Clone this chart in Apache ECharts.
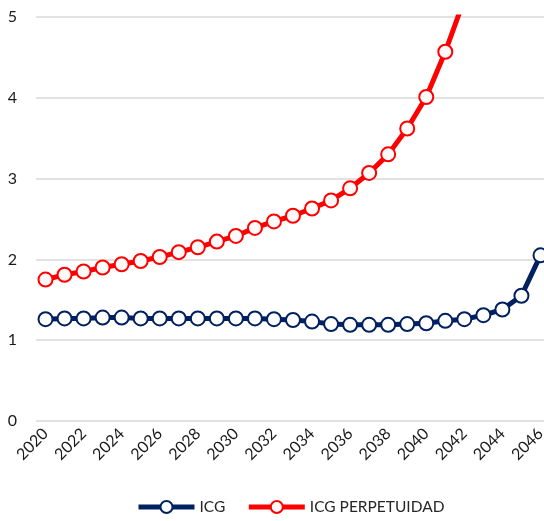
<!DOCTYPE html>
<html>
<head>
<meta charset="utf-8">
<script src="https://cdn.jsdelivr.net/npm/echarts@6/dist/echarts.min.js"></script>
<style>html,body{margin:0;padding:0;background:#fff;}#c{width:544px;height:521px;}</style>
</head>
<body>
<div id="c"></div>
<script>
var years = ['2020','2021','2022','2023','2024','2025','2026','2027','2028','2029','2030','2031','2032','2033','2034','2035','2036','2037','2038','2039','2040','2041','2042','2043','2044','2045','2046'];
var icg = [1.26,1.27,1.27,1.28,1.28,1.27,1.27,1.27,1.27,1.27,1.27,1.27,1.26,1.25,1.23,1.20,1.19,1.19,1.19,1.20,1.21,1.24,1.26,1.31,1.38,1.55,2.05];
var icgPerp = [1.75,1.81,1.85,1.90,1.94,1.98,2.03,2.09,2.15,2.22,2.29,2.39,2.47,2.54,2.63,2.73,2.88,3.07,3.30,3.62,4.01,4.57,5.22,null,null,null,null];
var yTicks = [0,1,2,3,4,5];

var FONT = 'Lato';
var chart = echarts.init(document.getElementById('c'));
chart.setOption({
  animation: false,
  grid: {left: 36, width: 514, top: 17, height: 404, outerBoundsMode: 'none', containLabel: false},
  legend: {
    bottom: 1, left: 131,
    itemWidth: 56, itemHeight: 15, itemGap: 21,
    textStyle: {fontFamily: FONT, fontSize: 15.5, color: '#262626'},
    data: [
      {name: 'ICG', lineStyle: {width: 5}},
      {name: 'ICG PERPETUIDAD', lineStyle: {width: 5}}
    ]
  },
  xAxis: {
    type: 'category',
    data: years,
    boundaryGap: true,
    axisLine: {show: false},
    axisTick: {show: false},
    axisLabel: {interval: 1, rotate: 45, fontFamily: FONT, fontSize: 16, color: '#1a1a1a', margin: 10}
  },
  yAxis: {
    type: 'value',
    min: yTicks[0], max: yTicks[yTicks.length - 1], interval: 1,
    axisLine: {show: false},
    axisTick: {show: false},
    splitLine: {lineStyle: {color: '#d9d9d9', width: 1.5}},
    axisLabel: {fontFamily: FONT, fontSize: 16, color: '#1a1a1a', margin: 19}
  },
  series: [
    {
      name: 'ICG', type: 'line', data: icg,
      symbol: 'circle', symbolSize: 14, showAllSymbol: true, clip: true,
      lineStyle: {color: '#002060', width: 5},
      itemStyle: {color: '#ffffff', borderColor: '#002060', borderWidth: 2}
    },
    {
      name: 'ICG PERPETUIDAD', type: 'line', data: icgPerp,
      symbol: 'circle', symbolSize: 14, showAllSymbol: true, clip: true,
      lineStyle: {color: '#ff0000', width: 5},
      itemStyle: {color: '#fffafa', borderColor: '#ff0000', borderWidth: 2}
    }
  ]
});
</script>
</body>
</html>
